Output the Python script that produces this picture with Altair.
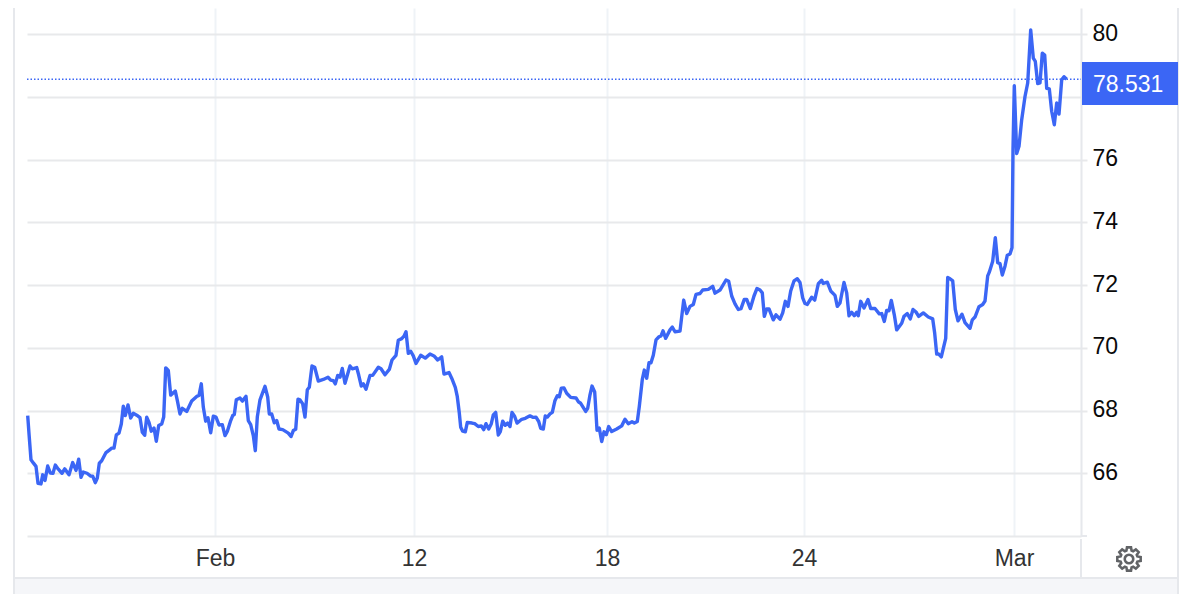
import math
import altair as alt
import pandas as pd

t_a = [0.7,2,4,6.3,9,11,14,15.7,18,20.7,23.3,26,28.3,31.3,35,37.7,42,45.7,49,51.7,54,56.3,60,63.7,65.7,68.3,70.3,72.3,74.7,79,82.3,84.7,87,89.3,92,94.3,96.3,98.3,101,103.7,106.3,109.7,113,115.3,117.7,119.7,122,124.3,127,129.3,131.7,134.7,136.7,138.7,141.3,143.7,148.3,150.3,153,155.3,159.7,164.7,169.7,172,174.3,176.3,178.7,181,183.7,186.3,189,192,195.3,198,200.3,203.7,205.7,207.3,209.3,213,215.3,219,221.3,223.7,226.3,228.3,230.3,233,238,240.7,242.3,244.7,247.3,249.7,252,255.7,261.3,264,266.3,268.7,271]
p_a = [67.84,67.26,66.43,66.33,66.22,65.68,65.66,65.95,65.77,66.23,66.01,66.0,66.26,66.13,66.0,66.14,65.95,66.34,66.09,66.45,65.87,66.04,66.0,65.91,65.91,65.70,65.85,66.32,66.40,66.66,66.74,66.80,66.80,67.22,67.28,67.57,68.14,67.84,68.18,67.76,67.91,67.85,67.77,67.31,67.21,67.79,67.62,67.34,67.44,67.02,67.52,67.57,67.79,69.36,69.28,68.49,68.62,68.32,67.89,68.07,67.97,68.30,68.45,68.48,68.85,68.11,67.66,67.77,67.29,67.82,67.79,67.54,67.55,67.20,67.33,67.68,67.84,67.87,68.34,68.40,68.30,68.45,67.68,67.55,67.20,66.72,67.79,68.34,68.77,68.43,67.89,67.89,67.61,67.68,67.41,67.39,67.28,67.17,67.36,67.40,68.36]

t_b = [273,275.7,278,280.3,282.3,285,287.7,291.3,296.3,301,303.7,306.3,308.3,310.7,313,315.3,318,323,325.3,329.7,331.7,334.3,336.3,339,343,345.7,351.3,354,358,362.3,365,369,371.3,374.7,377,379,381.3,383.7,386.3,389,393.7,398.3,403,407,410.7,414.7,417,422,424.7,428.3,430.3,432.3,433.7,435.7,438.3,440.3,445,447.7,451.3,454.3,456.7,459,461.7,464.3,466.3,468.7,471.3,473.3,475.7,478.3,480.7,483,485,487.7,490,494.7,498.3,503,506.3,509,511.7,513.7,516.3,518.3,520.3,523,525.3,528,530.3,532.3,534.3,537,539.7,543.7,549,551.3,553.7,558.7,560.7,563,565,567.7,569,570,572.3,574.7,577,579.3,581.7,584.7,589.7,594.7,598,601.3,605,607.3,610.3,612.3,615.3,617.3,619.7,622]
p_b = [68.34,68.21,67.79,68.66,68.74,69.42,69.38,68.94,68.99,69.06,68.97,68.95,68.85,69.12,69.06,69.34,68.87,69.42,69.33,69.37,69.13,68.78,68.85,68.68,69.12,69.12,69.38,69.33,69.14,69.31,69.61,69.76,70.24,70.29,70.37,70.51,69.82,69.89,69.74,69.50,69.76,69.67,69.80,69.74,69.61,69.71,69.16,69.21,69.03,68.74,68.44,67.92,67.47,67.34,67.32,67.62,67.60,67.58,67.49,67.51,67.39,67.58,67.41,67.58,67.86,67.94,67.22,67.33,67.66,67.53,67.60,67.49,67.94,67.81,67.60,67.72,67.75,67.83,67.78,67.79,67.65,67.43,67.41,67.83,67.79,67.89,67.94,68.32,68.47,68.44,68.71,68.72,68.55,68.42,68.40,68.28,68.23,67.97,68.07,68.50,68.78,68.59,67.92,67.37,67.44,67.01,67.32,67.23,67.49,67.33,67.41,67.51,67.72,67.58,67.64,67.60,67.65,68.13,68.99,69.29,69.03,69.52]

t_c = [624,626.3,629,632,634,636,638.7,643,645.3,648,653,656.7,659.7,663,666.3,669,673,675.7,681.3,685.7,688,693,699,701.7,704.7,708,711.3,714,717.3,719.7,723.3,727,730,733,735.3,737.3,739.7,742,746.3,749,753,755.7,758.3,761,763.7,767,770.3,773,775.7,778,780.3,784.7,787.7,791.3,794.7,796.3,800.3,803.7,808,810.3,813,817,819.7,822,824.7,827.3,829.7,831.3,833.7,837,841,843.7,848,852.3,854.7,857.3,859.7,862,864.3,867.3,869.7,874.7,877,880.3,883.3,886,889,891.7,896.3,901.3,905.7,907.7,909.7,911.7,914.3,918.7,920.7,923,925.7,928.3,931]
p_c = [69.52,69.76,70.25,70.35,70.38,70.54,70.30,70.57,70.66,70.51,70.53,71.52,71.09,71.32,71.38,71.70,71.73,71.84,71.86,71.96,71.74,71.84,72.16,72.12,71.65,71.40,71.22,71.25,71.54,71.54,71.25,71.65,71.89,71.84,71.75,71.00,71.24,71.24,70.89,71.05,70.91,71.11,71.48,71.32,71.81,72.13,72.20,72.08,71.59,71.41,71.38,71.61,71.52,72.04,72.15,72.05,72.09,71.81,71.67,71.32,71.43,72.08,71.75,71.02,71.13,71.02,71.13,71.02,71.48,71.27,71.54,71.25,71.25,71.08,71.09,70.84,71.19,71.18,71.51,71.05,70.57,70.78,71.00,71.09,70.92,71.22,71.14,71.00,71.11,70.98,70.92,70.46,69.80,69.80,69.71,70.30,72.24,72.20,72.13,71.22,70.86]

t_d = [935,938,943,945.3,948,952,955.7,958,960.7,962.3,965.7,968.3,970.7,973,975.3,978,980.3,983,985,986,987.3,989.7,992,994.7,998,1000.7,1003.7,1006.3,1008.3,1010.7,1013,1015.3,1017.7,1019.7,1022.3,1024.7,1027.3,1029.7,1032,1034.7,1037,1039.7]
p_d = [71.07,70.80,70.62,70.89,70.98,71.31,71.38,71.49,72.29,72.41,72.76,73.51,72.71,72.68,72.32,72.60,72.95,72.99,73.19,76.32,78.35,76.19,76.42,77.27,78.01,78.44,80.13,79.23,79.13,78.42,78.44,79.39,79.33,78.27,78.25,77.54,77.11,77.80,77.45,78.54,78.64,78.56]

tick_pos = [188, 387, 580, 777, 987]
tick_text = ["Feb", "12", "18", "24", "Mar"]
y_ticks = [66, 68, 70, 72, 74, 76, 78, 80]
last_value = 78.56
last_label = "78.531"

BLUE = "#3b66f5"
GRID = "#e8e9eb"
VGRID = "#eff3f7"
FRAME = "#e6e8ec"
FONT = "Liberation Sans"

df = pd.DataFrame({"t": t_a + t_b + t_c + t_d, "p": p_a + p_b + p_c + p_d})

x_scale = alt.Scale(domain=[0, 1054], nice=False, zero=False)
y_scale = alt.Scale(domain=[64, 80.83], nice=False, zero=False)

mapping = "{" + ",".join(f"'{a}':'{b}'" for a, b in zip(tick_pos, tick_text)) + "}"

x_axis = alt.Axis(
    values=tick_pos, labelExpr=f"{mapping}[datum.value]", title=None,
    grid=True, gridColor=VGRID, gridWidth=2, tickSize=0,
    domainColor=GRID, domainWidth=2, labelFont=FONT, labelFontSize=23,
    labelColor="#333333", labelPadding=11, labelFlush=False, labelOverlap=False,
)
y_axis = alt.Axis(
    values=y_ticks, orient="right", title=None,
    labelExpr="datum.value == 78 ? '' : datum.label",
    grid=True, gridColor=GRID, gridWidth=2, tickColor=GRID, tickWidth=2, tickSize=6,
    domainColor=FRAME, domainWidth=2, labelFont=FONT, labelFontSize=23,
    labelColor="#0a0a0a", labelPadding=5, labelOverlap=False, labelOffset=-1,
)

line = alt.Chart(df).mark_line(color=BLUE, strokeWidth=3.4, strokeJoin="round").encode(
    x=alt.X("t:Q", scale=x_scale, axis=x_axis),
    y=alt.Y("p:Q", scale=y_scale, axis=y_axis),
)

last_rule = alt.Chart(pd.DataFrame({"v": [last_value]})).mark_rule(
    color=BLUE, strokeWidth=1.5, strokeDash=[1.5, 2]
).encode(y=alt.Y("v:Q", scale=y_scale), x=alt.value(0), x2=alt.value(1054))

tag = alt.Chart().mark_rect(color=BLUE).encode(
    x=alt.value(1055), x2=alt.value(1151), y=alt.value(54), y2=alt.value(97)
)
tag_text = alt.Chart().mark_text(
    text=last_label, color="white", font=FONT, fontSize=23, align="left", baseline="middle"
).encode(x=alt.value(1066), y=alt.value(77))

band = alt.Chart().mark_rect(color="#f5f6f9").encode(
    x=alt.value(-13), x2=alt.value(1151), y=alt.value(570), y2=alt.value(586)
)
def vrule(x, y0, y1):
    return alt.Chart().mark_rule(color=FRAME, strokeWidth=2).encode(
        x=alt.value(x), y=alt.value(y0), y2=alt.value(y1))
def hrule(x0, x1, y):
    return alt.Chart().mark_rule(color=FRAME, strokeWidth=2).encode(
        x=alt.value(x0), x2=alt.value(x1), y=alt.value(y))

pts = []
for i in range(8):
    c = i * math.pi / 4 - math.pi / 2
    for da, r in [(-0.30, 0.74), (-0.17, 1.0), (0.17, 1.0), (0.30, 0.74)]:
        pts.append((r * math.cos(c + da), r * math.sin(c + da)))
gear_path = "M" + " L".join(f"{a:.3f} {b:.3f}" for a, b in pts) + " Z " \
    "M0.36 0 A0.36 0.36 0 1 0 -0.36 0 A0.36 0.36 0 1 0 0.36 0 Z"
gear = alt.Chart().mark_point(
    shape=gear_path, filled=False, stroke="#616366", strokeWidth=2.6, opacity=1, size=560
).encode(x=alt.value(1102), y=alt.value(551))

chart = alt.layer(
    band,
    vrule(-13, -8, 586), vrule(1151, -8, 586), hrule(-13, 1151, 570),
    vrule(1054, 531, 570), hrule(1054, 1060, 528),
    line, last_rule, tag, tag_text, gear,
).properties(
    width=1054, height=528,
    padding={"left": 19, "top": 0, "right": 111, "bottom": 58},
    autosize=alt.AutoSizeParams(type="none"),
    background="white",
).configure_view(stroke=None)

chart.save("out.html", embed_options={"renderer": "svg", "actions": False})
